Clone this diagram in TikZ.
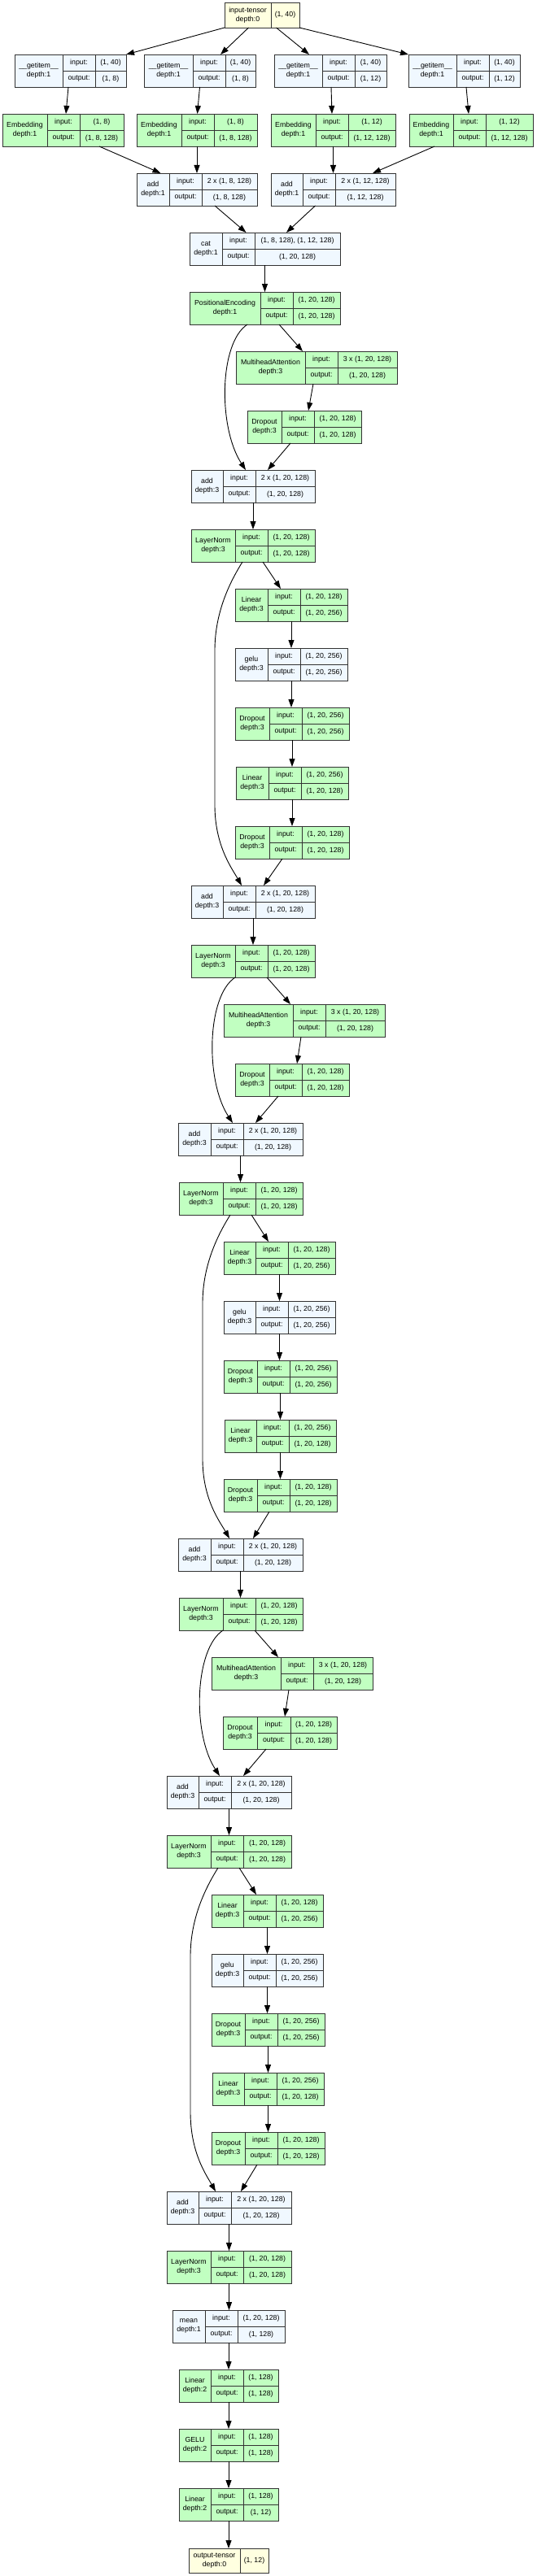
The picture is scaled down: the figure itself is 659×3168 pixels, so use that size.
\documentclass[tikz,border=0pt]{standalone}
\usepackage{fontspec}
\setmainfont{Liberation Sans}
\usepackage{tikz}
\usetikzlibrary{arrows.meta}
\usepackage{xcolor}
\definecolor{FnBlue}{HTML}{F0F8FF}
\definecolor{ModGreen}{HTML}{C1FFC1}
\definecolor{TensorYellow}{HTML}{FFFFE0}
\definecolor{BoxLine}{HTML}{333333}

\tikzset{
  recbox/.style={rectangle,draw=BoxLine,line width=0.9pt,inner sep=0pt,outer sep=0pt,anchor=north west,minimum height=40},
  recline/.style={draw=BoxLine,line width=0.9pt},
  celltext/.style={font=\fontsize{8.8}{11}\selectfont,align=center,inner sep=0pt},
  fnbox/.style={fill=FnBlue},
  modbox/.style={fill=ModGreen},
  tensorbox/.style={fill=TensorYellow},
  flow/.style={-{Triangle[length=10pt,width=7pt]},line width=0.9pt,black},
}

\def\splitcols#1,#2,#3,#4\relax{\def\cola{#1}\def\colb{#2}\def\colc{#3}\def\cold{#4}}
\def\splittcols#1,#2,#3\relax{\def\cola{#1}\def\colb{#2}\def\cold{#3}}
% name, fill style, column edges, row, title, depth, input, output
\newcommand\torchlayer[8]{%
  \splitcols#3\relax
  \pgfmathsetmacro\rowtop{67+73*#4}
  \node[recbox,#2,minimum width={\cold-\cola}] (#1) at (\cola,\rowtop) {};
  \draw[recline] (\colb,\rowtop) -- ++(0,40) (\colc,\rowtop) -- ++(0,40)
    (\colb,\rowtop+20) -- (\cold,\rowtop+20);
  \node[celltext] (#1-t) at ({(\cola+\colb)/2},\rowtop+20) {#5\\depth:#6};
  \node[celltext] (#1-il) at ({(\colb+\colc)/2},\rowtop+10) {input:};
  \node[celltext] (#1-iv) at ({(\colc+\cold)/2},\rowtop+10) {#7};
  \node[celltext] (#1-ol) at ({(\colb+\colc)/2},\rowtop+30) {output:};
  \node[celltext] (#1-ov) at ({(\colc+\cold)/2},\rowtop+30) {#8};
}
% name, column edges, top, height, title, depth, shape
\newcommand\torchtensor[7]{%
  \splittcols#2\relax
  \node[recbox,tensorbox,minimum width={\cold-\cola},minimum height=#4] (#1) at (\cola,#3) {};
  \draw[recline] (\colb,#3) -- ++(0,#4);
  \node[celltext] (#1-t) at ({(\cola+\colb)/2},{#3+#4/2}) {#5\\depth:#6};
  \node[celltext] (#1-v) at ({(\colb+\cold)/2},{#3+#4/2}) {#7};
}

\begin{document}
\begin{tikzpicture}[x=1pt,y=-1pt]
  \useasboundingbox (0,0) rectangle (659,3168);
  % Input and embeddings
  \torchtensor{in}{276,333,368}{3}{31}{input-tensor}{0}{(1, 40)}
  \torchlayer{gi1}{fnbox}{18,77,117,155}{0}{\_\_getitem\_\_}{1}{(1, 40)}{(1, 8)}
  \torchlayer{gi2}{fnbox}{177,237,277,314}{0}{\_\_getitem\_\_}{1}{(1, 40)}{(1, 8)}
  \torchlayer{gi3}{fnbox}{337,396,436,475}{0}{\_\_getitem\_\_}{1}{(1, 40)}{(1, 12)}
  \torchlayer{gi4}{fnbox}{502,561,601,639}{0}{\_\_getitem\_\_}{1}{(1, 40)}{(1, 12)}
  \torchlayer{em1}{modbox}{3,58,98,152}{1}{Embedding}{1}{(1, 8)}{(1, 8, 128)}
  \torchlayer{em2}{modbox}{168,223,263,316}{1}{Embedding}{1}{(1, 8)}{(1, 8, 128)}
  \torchlayer{em3}{modbox}{333,388,428,486}{1}{Embedding}{1}{(1, 12)}{(1, 12, 128)}
  \torchlayer{em4}{modbox}{503,557,597,655}{1}{Embedding}{1}{(1, 12)}{(1, 12, 128)}
  \torchlayer{add1}{fnbox}{168,208,248,316}{2}{add}{1}{2 x (1, 8, 128)}{(1, 8, 128)}
  \torchlayer{add2}{fnbox}{333,372,412,486}{2}{add}{1}{2 x (1, 12, 128)}{(1, 12, 128)}
  \torchlayer{cat}{fnbox}{233,273,313,418}{3}{cat}{1}{(1, 8, 128), (1, 12, 128)}{(1, 20, 128)}
  \torchlayer{pe}{modbox}{233,320,360,418}{4}{PositionalEncoding}{1}{(1, 20, 128)}{(1, 20, 128)}
  % Encoder block 1
  \torchlayer{mha1}{modbox}{290,375,415,488}{5}{MultiheadAttention}{3}{3 x (1, 20, 128)}{(1, 20, 128)}
  \torchlayer{dr1}{modbox}{304,346,386,444}{6}{Dropout}{3}{(1, 20, 128)}{(1, 20, 128)}
  \torchlayer{add3}{fnbox}{235,274,314,387}{7}{add}{3}{2 x (1, 20, 128)}{(1, 20, 128)}
  \torchlayer{ln1}{modbox}{235,289,329,387}{8}{LayerNorm}{3}{(1, 20, 128)}{(1, 20, 128)}
  \torchlayer{lin1}{modbox}{289,329,369,427}{9}{Linear}{3}{(1, 20, 128)}{(1, 20, 256)}
  \torchlayer{gelu1}{fnbox}{289,329,369,427}{10}{gelu}{3}{(1, 20, 256)}{(1, 20, 256)}
  \torchlayer{dr2}{modbox}{289,331,371,429}{11}{Dropout}{3}{(1, 20, 256)}{(1, 20, 256)}
  \torchlayer{lin2}{modbox}{290,330,370,428}{12}{Linear}{3}{(1, 20, 256)}{(1, 20, 128)}
  \torchlayer{dr3}{modbox}{289,331,371,429}{13}{Dropout}{3}{(1, 20, 128)}{(1, 20, 128)}
  \torchlayer{add4}{fnbox}{235,274,314,387}{14}{add}{3}{2 x (1, 20, 128)}{(1, 20, 128)}
  % Encoder block 2
  \torchlayer{ln2}{modbox}{235,289,329,387}{15}{LayerNorm}{3}{(1, 20, 128)}{(1, 20, 128)}
  \torchlayer{mha2}{modbox}{275,360,400,473}{16}{MultiheadAttention}{3}{3 x (1, 20, 128)}{(1, 20, 128)}
  \torchlayer{dr4}{modbox}{289,331,371,429}{17}{Dropout}{3}{(1, 20, 128)}{(1, 20, 128)}
  \torchlayer{add5}{fnbox}{219,259,299,372}{18}{add}{3}{2 x (1, 20, 128)}{(1, 20, 128)}
  \torchlayer{ln3}{modbox}{220,274,314,372}{19}{LayerNorm}{3}{(1, 20, 128)}{(1, 20, 128)}
  \torchlayer{lin3}{modbox}{275,314,354,412}{20}{Linear}{3}{(1, 20, 128)}{(1, 20, 256)}
  \torchlayer{gelu2}{fnbox}{275,314,354,412}{21}{gelu}{3}{(1, 20, 256)}{(1, 20, 256)}
  \torchlayer{dr5}{modbox}{275,316,356,414}{22}{Dropout}{3}{(1, 20, 256)}{(1, 20, 256)}
  \torchlayer{lin4}{modbox}{276,315,355,413}{23}{Linear}{3}{(1, 20, 256)}{(1, 20, 128)}
  \torchlayer{dr6}{modbox}{275,316,356,414}{24}{Dropout}{3}{(1, 20, 128)}{(1, 20, 128)}
  \torchlayer{add6}{fnbox}{219,259,299,372}{25}{add}{3}{2 x (1, 20, 128)}{(1, 20, 128)}
  % Encoder block 3
  \torchlayer{ln4}{modbox}{220,274,314,372}{26}{LayerNorm}{3}{(1, 20, 128)}{(1, 20, 128)}
  \torchlayer{mha3}{modbox}{260,345,385,458}{27}{MultiheadAttention}{3}{3 x (1, 20, 128)}{(1, 20, 128)}
  \torchlayer{dr7}{modbox}{274,316,357,414}{28}{Dropout}{3}{(1, 20, 128)}{(1, 20, 128)}
  \torchlayer{add7}{fnbox}{205,244,284,358}{29}{add}{3}{2 x (1, 20, 128)}{(1, 20, 128)}
  \torchlayer{ln5}{modbox}{205,259,299,358}{30}{LayerNorm}{3}{(1, 20, 128)}{(1, 20, 128)}
  \torchlayer{lin5}{modbox}{260,299,339,397}{31}{Linear}{3}{(1, 20, 128)}{(1, 20, 256)}
  \torchlayer{gelu3}{fnbox}{260,299,339,397}{32}{gelu}{3}{(1, 20, 256)}{(1, 20, 256)}
  \torchlayer{dr8}{modbox}{260,301,341,399}{33}{Dropout}{3}{(1, 20, 256)}{(1, 20, 256)}
  \torchlayer{lin6}{modbox}{261,300,340,398}{34}{Linear}{3}{(1, 20, 256)}{(1, 20, 128)}
  \torchlayer{dr9}{modbox}{260,301,341,399}{35}{Dropout}{3}{(1, 20, 128)}{(1, 20, 128)}
  \torchlayer{add8}{fnbox}{205,244,284,358}{36}{add}{3}{2 x (1, 20, 128)}{(1, 20, 128)}
  \torchlayer{ln6}{modbox}{205,259,299,358}{37}{LayerNorm}{3}{(1, 20, 128)}{(1, 20, 128)}
  % Head
  \torchlayer{mean}{fnbox}{212,252,292,350}{38}{mean}{1}{(1, 20, 128)}{(1, 128)}
  \torchlayer{lin7}{modbox}{220,259,299,342}{39}{Linear}{2}{(1, 128)}{(1, 128)}
  \torchlayer{gelu4}{modbox}{220,259,299,342}{40}{GELU}{2}{(1, 128)}{(1, 128)}
  \torchlayer{lin8}{modbox}{220,259,299,342}{41}{Linear}{2}{(1, 128)}{(1, 12)}
  \torchtensor{out}{232,295,330}{3134}{30}{output-tensor}{0}{(1, 12)}

  % Straight links
  \foreach \a/\b in {em2/add1,em3/add2,cat/pe,add3/ln1,lin1/gelu1,gelu1/dr2,dr2/lin2,lin2/dr3,
      add4/ln2,add5/ln3,lin3/gelu2,gelu2/dr5,dr5/lin4,lin4/dr6,add6/ln4,add7/ln5,
      lin5/gelu3,gelu3/dr8,dr8/lin6,lin6/dr9,add8/ln6,ln6/mean,mean/lin7,lin7/gelu4,gelu4/lin8,lin8/out}
    \draw[flow] (\a.south) -- (\a.south |- \b.north);
  % Fan out of the input
  \draw[flow] (in.south west) -- (gi1.north east);
  \draw[flow] ([xshift=-16.5]in.south) -- ([xshift=25.5]gi2.north);
  \draw[flow] ([xshift=17.5]in.south) -- ([xshift=-26]gi3.north);
  \draw[flow] (in.south east) -- (gi4.north west);
  \draw[flow] ([xshift=-2.5]gi1.south) -- ([xshift=3.5]em1.north);
  \draw[flow] (gi2.south) -- ([xshift=0.5]em2.north);
  \draw[flow] ([xshift=1]gi3.south) -- ([xshift=-1.5]em3.north);
  \draw[flow] ([xshift=2.5]gi4.south) -- ([xshift=-3]em4.north);
  \draw[flow] ([xshift=44.5]em1.south) -- ([xshift=-44.5]add1.north);
  \draw[flow] ([xshift=-45]em4.south) -- ([xshift=48.5]add2.north);
  \draw[flow] ([xshift=22]add1.south) -- ([xshift=-23]cat.north);
  \draw[flow] ([xshift=-22]add2.south) -- ([xshift=26.5]cat.north);
  % Attention branches
  \draw[flow] ([xshift=17.5]pe.south) -- ([xshift=-17]mha1.north);
  \draw[flow] ([xshift=-4]mha1.south) -- ([xshift=5]dr1.north);
  \draw[flow] ([xshift=-17]dr1.south) -- ([xshift=18]add3.north);
  \draw[flow] ([xshift=17]ln2.south) -- ([xshift=-17]mha2.north);
  \draw[flow] ([xshift=-4]mha2.south) -- ([xshift=6]dr4.north);
  \draw[flow] ([xshift=-17]dr4.south) -- ([xshift=18.5]add5.north);
  \draw[flow] ([xshift=17]ln4.south) -- ([xshift=-17]mha3.north);
  \draw[flow] ([xshift=-4]mha3.south) -- ([xshift=6]dr7.north);
  \draw[flow] ([xshift=-17]dr7.south) -- ([xshift=17.5]add7.north);
  % Feed forward branches
  \draw[flow] ([xshift=12]ln1.south) -- ([xshift=-13]lin1.north);
  \draw[flow] ([xshift=-12]dr3.south) -- ([xshift=13]add4.north);
  \draw[flow] ([xshift=13]ln3.south) -- ([xshift=-13.5]lin3.north);
  \draw[flow] ([xshift=-13.5]dr6.south) -- ([xshift=15.5]add6.north);
  \draw[flow] ([xshift=12.5]ln5.south) -- ([xshift=-13.5]lin5.north);
  \draw[flow] ([xshift=-13.5]dr9.south) -- ([xshift=14.5]add8.north);
  % Residual skips
  \draw[flow] ([xshift=-21.5]pe.south) .. controls +(-35,23) and +(-34,-52) .. ([xshift=-9]add3.north);
  \draw[flow] ([xshift=-22]ln2.south) .. controls +(-35,23) and +(-34,-52) .. ([xshift=-9.5]add5.north);
  \draw[flow] ([xshift=-22]ln4.south) .. controls +(-35,23) and +(-34,-52) .. ([xshift=-11.5]add7.north);
  \draw[flow] ([xshift=-13]ln1.south) .. controls +(-13,21) and (264,750) .. (264,800)
    -- (264,990) .. controls (264,1040) and +(-12,-21) .. ([xshift=-14]add4.north);
  \draw[flow] ([xshift=-13]ln3.south) .. controls +(-13,21) and (249,1553) .. (249,1603)
    -- (249,1794) .. controls (249,1844) and +(-12,-21) .. ([xshift=-13.5]add6.north);
  \draw[flow] ([xshift=-13.5]ln5.south) .. controls +(-13,21) and (234,2356) .. (234,2406)
    -- (234,2597) .. controls (234,2647) and +(-12,-21) .. ([xshift=-16.5]add8.north);
\end{tikzpicture}
\end{document}
